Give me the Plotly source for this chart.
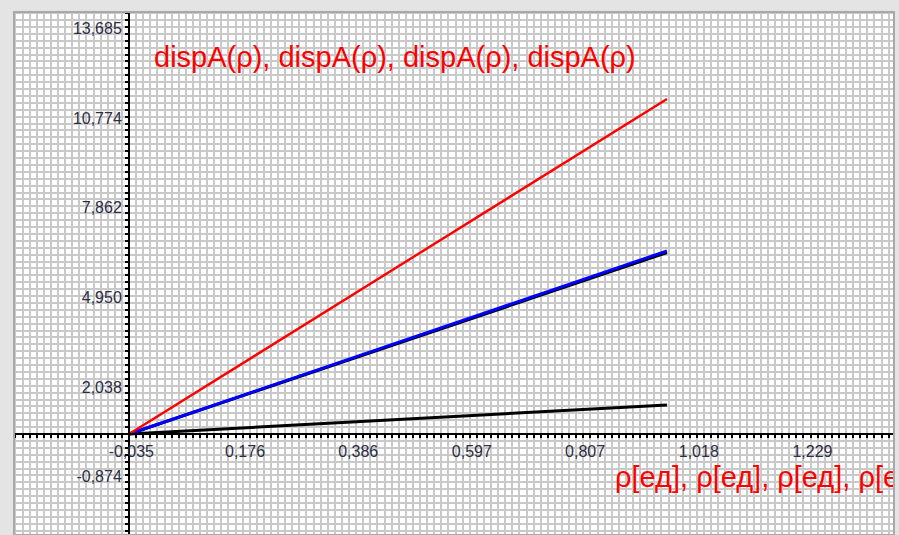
import plotly.graph_objects as go

# ---- data (in axis-label units) ----
rho = [-0.039, 0.959]
disp_red = [0.513, 11.39]
disp_black_mid = [0.513, 6.40]
disp_blue = [0.513, 6.455]
disp_black_low = [0.513, 1.455]

x_tick_labels = ["-0,035", "0,176", "0,386", "0,597", "0,807", "1,018", "1,229"]
y_tick_labels = ["13,685", "10,774", "7,862", "4,950", "2,038", "-0,874"]
x_tick_values = [float(s.replace(",", ".")) for s in x_tick_labels]
y_tick_values = [float(s.replace(",", ".")) for s in y_tick_labels]

title_text = "dispA(ρ), dispA(ρ), dispA(ρ), dispA(ρ)"
xlabel_text = "ρ[ед], ρ[ед], ρ[ед], ρ[ед]"

FONT = "Liberation Sans, Arial, sans-serif"
TICKCOL = "#2d2d44"
GRIDCOL = "#c9c9c9"
BG = "#e4e4e4"

fig = go.Figure()
fig.add_trace(go.Scatter(x=rho, y=disp_black_low, mode="lines",
                         line=dict(color="black", width=3), hoverinfo="skip"))
fig.add_trace(go.Scatter(x=rho, y=disp_black_mid, mode="lines",
                         line=dict(color="black", width=3), hoverinfo="skip"))
fig.add_trace(go.Scatter(x=rho, y=disp_blue, mode="lines",
                         line=dict(color="#0000ff", width=3), hoverinfo="skip"))
fig.add_trace(go.Scatter(x=rho, y=disp_red, mode="lines",
                         line=dict(color="#ff0000", width=2.4), hoverinfo="skip"))
# x-axis title (clipped by plot area like the original)
fig.add_trace(go.Scatter(x=[0.8626], y=[-0.98], mode="text", text=[xlabel_text],
                         textposition="middle right", cliponaxis=True,
                         textfont=dict(family=FONT, size=29, color="#ff0000"),
                         hoverinfo="skip"))

fig.update_layout(
    width=899, height=535,
    margin=dict(l=14, r=5, t=12, b=0),
    paper_bgcolor=BG,
    plot_bgcolor="white",
    showlegend=False,
    hovermode=False,
    xaxis=dict(
        range=[-0.2527, 1.3803], anchor="free", position=0.1931, automargin=False,
        tickmode="array", tickvals=x_tick_values, ticktext=x_tick_labels,
        showgrid=False, zeroline=False,
        showline=True, linecolor="black", linewidth=2,
        ticks="", ticklabelstandoff=3,
        tickfont=dict(family=FONT, size=16, color=TICKCOL),
        minor=dict(tickmode="linear", tick0=-0.0393, dtick=0.013175,
                   showgrid=True, gridcolor=GRIDCOL, gridwidth=2,
                   ticks="outside", ticklen=3, tickcolor="black", tickwidth=2),
        fixedrange=True,
    ),
    yaxis=dict(
        range=[-2.766, 14.214], anchor="free", position=0.1307, automargin=False,
        tickmode="array", tickvals=y_tick_values, ticktext=y_tick_labels,
        showgrid=False, zeroline=False,
        showline=True, linecolor="black", linewidth=2,
        ticks="", ticklabelstandoff=3,
        tickfont=dict(family=FONT, size=16, color=TICKCOL),
        minor=dict(tickmode="linear", tick0=0.513, dtick=0.224,
                   showgrid=True, gridcolor=GRIDCOL, gridwidth=2,
                   ticks="outside", ticklen=3, tickcolor="black", tickwidth=2),
        fixedrange=True,
    ),
    annotations=[dict(
        text=title_text, xref="paper", yref="paper", x=0.1568, y=0.914,
        xanchor="left", yanchor="middle", showarrow=False,
        font=dict(family=FONT, size=29, color="#ff0000"),
    )],
    shapes=[dict(type="rect", xref="paper", yref="paper", x0=0, x1=1, y0=0, y1=1,
                 line=dict(color="#a8a8a8", width=2), layer="above")],
)

fig.write_html(
    "out.html",
    config={"displayModeBar": False, "staticPlot": True},
    post_script="document.body.style.margin='0';document.body.style.background='%s';" % BG,
)
